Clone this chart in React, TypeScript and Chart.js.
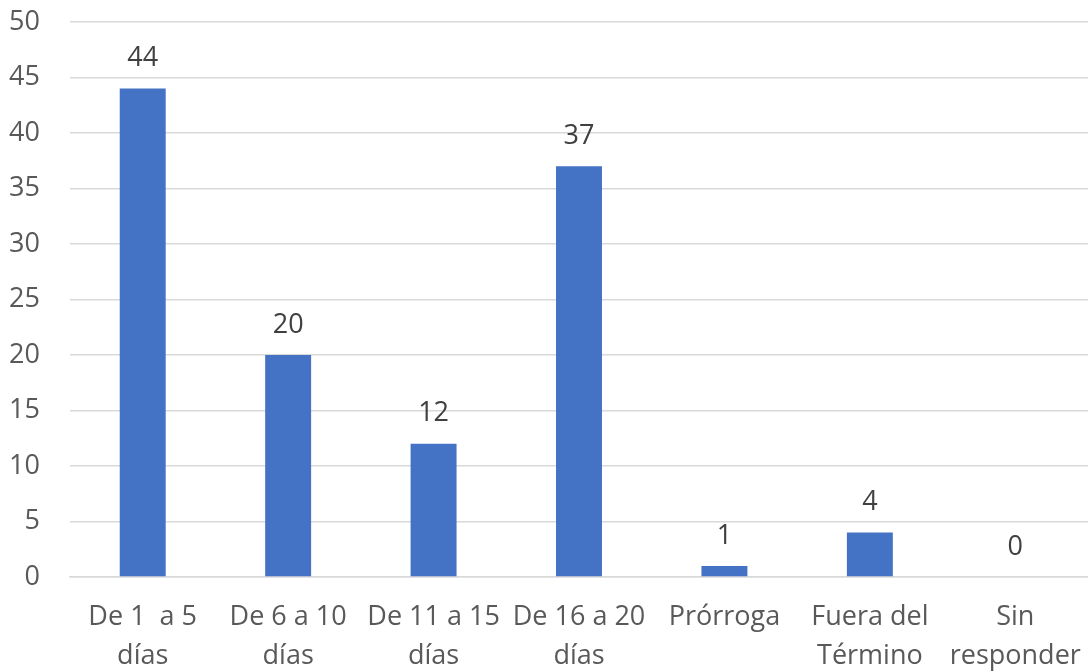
import React, { useEffect, useRef } from "react";
import { Chart, registerables } from "chart.js";

Chart.register(...registerables);

const categories: (string | string[])[] = [
  ["De 1  a 5", "días"],
  ["De 6 a 10", "días"],
  ["De 11 a 15", "días"],
  ["De 16 a 20", "días"],
  "Prórroga",
  ["Fuera del", "Término"],
  ["Sin", "responder"],
];
const values: number[] = [44, 20, 12, 37, 1, 4, 0];
const yTicks: number[] = [0, 5, 10, 15, 20, 25, 30, 35, 40, 45, 50];

const FONT = "'Open Sans', 'Noto Sans', sans-serif";

const valueLabels = {
  id: "valueLabels",
  afterDatasetsDraw(chart: any) {
    const ctx = chart.ctx;
    const meta = chart.getDatasetMeta(0);
    ctx.save();
    ctx.font = `27px ${FONT}`;
    ctx.fillStyle = "#404040";
    ctx.textAlign = "center";
    ctx.textBaseline = "middle";
    meta.data.forEach((bar: any, i: number) => {
      ctx.fillText(String(values[i]), bar.x, bar.y - 30);
    });
    ctx.restore();
  },
};

export default function App() {
  const ref = useRef<HTMLCanvasElement | null>(null);
  useEffect(() => {
    document.body.style.margin = "0";
    const chart = new Chart(ref.current!, {
      type: "bar",
      data: {
        labels: categories,
        datasets: [
          {
            data: values,
            backgroundColor: "#4472c4",
            barPercentage: 0.316,
            categoryPercentage: 1,
          },
        ],
      },
      options: {
        animation: false,
        responsive: false,
        layout: { autoPadding: false, padding: { left: 8, top: 22, right: 0, bottom: 0 } },
        plugins: { legend: { display: false }, tooltip: { enabled: false } },
        scales: {
          x: {
            grid: { display: false, drawTicks: false },
            border: { display: true, color: "#d9d9d9", width: 1.5 },
            ticks: {
              color: "#595959",
              font: { family: FONT, size: 27, lineHeight: 1.45 },
              padding: 21,
              maxRotation: 0,
              autoSkip: false,
            },
            afterFit: (axis: any) => {
              axis.height = 95;
              axis.paddingLeft = 0;
              axis.paddingRight = 0;
            },
          },
          y: {
            min: 0,
            max: 50,
            afterBuildTicks: (axis: any) => {
              axis.ticks = yTicks.map((v) => ({ value: v }));
            },
            grid: { color: "#d9d9d9", lineWidth: 1.5, drawTicks: false },
            border: { display: false },
            ticks: {
              color: "#595959",
              font: { family: FONT, size: 27, lineHeight: 1.2 },
              padding: 30,
            },
            afterFit: (axis: any) => {
              axis.width = 62;
              axis.paddingTop = 0;
              axis.paddingBottom = 0;
            },
          },
        },
      },
      plugins: [valueLabels],
    });
    return () => chart.destroy();
  }, []);
  return (
    <div style={{ width: 1088, height: 672 }}>
      <canvas ref={ref} width={1088} height={672} style={{ width: 1088, height: 672 }} />
    </div>
  );
}
